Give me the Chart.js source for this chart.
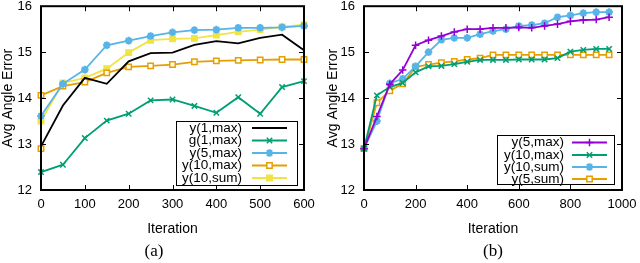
<!DOCTYPE html>
<html>
<head>
<meta charset="utf-8">
<script src="https://cdn.jsdelivr.net/npm/chart.js@4.4.0/dist/chart.umd.min.js"></script>
<style>
  body { margin: 0; background: #fff; }
  #wrap { position: relative; width: 640px; height: 263px; overflow: hidden; }
  canvas { position: absolute; top: 0; }
  .cap { position: absolute; font: 17px "Liberation Serif", serif; transform: translate(-50%, -50%); color: #000; }
</style>
</head>
<body>
<div id="wrap">
  <canvas id="chartA" width="320" height="263" style="left:0"></canvas>
  <canvas id="chartB" width="320" height="263" style="left:320px"></canvas>
  <div class="cap" style="left:154px;top:251px">(a)</div>
  <div class="cap" style="left:493px;top:251px">(b)</div>
</div>
<script>
// ---- data, panel (a) ----
const iterA = [0, 50, 100, 150, 200, 250, 300, 350, 400, 450, 500, 550, 600];
const iterA10max = [0, 0, 50, 100, 150, 200, 250, 300, 350, 400, 450, 500, 550, 600];
const a_y1max = [12.95, 13.84, 14.44, 14.31, 14.8, 14.98, 14.99, 15.16, 15.24, 15.19, 15.31, 15.38, 15.04];
const a_g1max = [12.39, 12.55, 13.13, 13.51, 13.66, 13.95, 13.97, 13.83, 13.68, 14.02, 13.66, 14.24, 14.37];
const a_y5max = [13.61, 14.31, 14.62, 15.15, 15.25, 15.35, 15.43, 15.48, 15.49, 15.53, 15.53, 15.54, 15.57];
const a_y10max = [12.9, 14.06, 14.26, 14.35, 14.55, 14.68, 14.7, 14.73, 14.79, 14.81, 14.82, 14.83, 14.84, 14.84];
const a_y10sum = [13.5, 14.33, 14.44, 14.64, 14.99, 15.26, 15.29, 15.3, 15.37, 15.44, 15.49, 15.55, 15.6];

// ---- data, panel (b) ----
const iterB = [0, 50, 100, 150, 200, 250, 300, 350, 400, 450, 500, 550, 600, 650, 700, 750, 800, 850, 900, 950];
const b_y5max = [12.9, 13.6, 14.3, 14.61, 15.15, 15.26, 15.35, 15.44, 15.5, 15.5, 15.53, 15.53, 15.54, 15.53, 15.57, 15.61, 15.67, 15.7, 15.71, 15.76];
const b_y10max = [12.9, 14.06, 14.24, 14.33, 14.56, 14.69, 14.7, 14.74, 14.79, 14.83, 14.83, 14.83, 14.84, 14.84, 14.84, 14.87, 15.01, 15.05, 15.07, 15.07];
const b_y10sum = [12.9, 13.5, 14.32, 14.42, 14.69, 15.0, 15.27, 15.31, 15.31, 15.39, 15.46, 15.5, 15.57, 15.59, 15.63, 15.76, 15.8, 15.85, 15.87, 15.87];
const b_y5sum = [12.9, 13.9, 14.16, 14.31, 14.68, 14.73, 14.77, 14.8, 14.84, 14.87, 14.94, 14.94, 14.94, 14.94, 14.94, 14.94, 14.94, 14.94, 14.94, 14.94];

const yTicks = [12, 13, 14, 15, 16];

const FONT = "'Liberation Sans', Arial, sans-serif";
const BLACK = "#000000", GREEN = "#009e73", BLUE = "#56b4e9",
      ORANGE = "#e69f00", YELLOW = "#f0e442", PURPLE = "#9400d3";

function pts(xs, ys) {
  return xs.map((x, i) => ({ x: x, y: ys[i] }));
}

function series(label, xs, ys, color, style) {
  let open = style === "rectOpen";
  let sq = style === "rect" || open;
  return {
    label: label,
    data: pts(xs, ys),
    borderColor: color,
    backgroundColor: open ? "#ffffff" : color,
    borderWidth: 1.8,
    pointStyle: style ? (open ? "rect" : style) : false,
    pointRadius: style ? (sq ? 3.8 : 3.8) : 0,
    pointBorderWidth: style === "star" ? 2.2 : 1.5,
    pointBorderColor: color,
    pointBackgroundColor: open ? "#ffffff" : color,
    tension: 0,
    clip: false,
  };
}

// frame with inward ticks on all four sides
const framePlugin = {
  id: "frame",
  afterDatasetsDraw(chart) {
    const { ctx, chartArea: a, scales } = chart;
    ctx.save();
    ctx.strokeStyle = "#000";
    ctx.lineWidth = 1;
    ctx.beginPath();
    scales.x.ticks.forEach((t) => {
      const px = Math.round(scales.x.getPixelForValue(t.value)) + 0.5;
      ctx.moveTo(px, a.bottom); ctx.lineTo(px, a.bottom - 5);
      ctx.moveTo(px, a.top); ctx.lineTo(px, a.top + 5);
    });
    scales.y.ticks.forEach((t) => {
      const py = Math.round(scales.y.getPixelForValue(t.value)) + 0.5;
      ctx.moveTo(a.left, py); ctx.lineTo(a.left + 5, py);
      ctx.moveTo(a.right, py); ctx.lineTo(a.right - 5, py);
    });
    ctx.stroke();
    ctx.lineWidth = 2;
    ctx.strokeRect(a.left, a.top, a.right - a.left, a.bottom - a.top);
    ctx.restore();
  },
};

// gnuplot-like key: text right-aligned, then line sample with marker
const keyPlugin = {
  id: "gkey",
  afterDraw(chart, args, opts) {
    const { ctx } = chart;
    const [l, t, r, b] = opts.box;
    ctx.save();
    ctx.fillStyle = "#fff";
    ctx.fillRect(l, t, r - l, b - t);
    ctx.strokeStyle = "#000";
    ctx.lineWidth = 1;
    ctx.strokeRect(l + 0.5, t + 0.5, r - l, b - t);
    ctx.font = opts.fontSize + "px " + FONT;
    ctx.textAlign = "right";
    ctx.textBaseline = "middle";
    chart.data.datasets.forEach((ds, i) => {
      const y = opts.rows[i];
      ctx.fillStyle = "#000";
      ctx.fillText(ds.label, opts.textRight, y);
      ctx.strokeStyle = ds.borderColor;
      ctx.lineWidth = ds.borderWidth;
      ctx.beginPath();
      ctx.moveTo(opts.x1, y);
      ctx.lineTo(opts.x2, y);
      ctx.stroke();
      if (ds.pointStyle) {
        ctx.fillStyle = ds.pointBackgroundColor;
        ctx.strokeStyle = ds.pointBorderColor;
        ctx.lineWidth = ds.pointBorderWidth;
        Chart.helpers.drawPoint(ctx, {
          pointStyle: ds.pointStyle, radius: ds.pointRadius,
          borderWidth: ds.pointBorderWidth, rotation: 0,
        }, (opts.x1 + opts.x2) / 2, y);
      }
    });
    ctx.restore();
  },
};

function makeOptions(xMax, xStep, yWidth, yTitlePad, padRight, key) {
  return {
    responsive: false,
    animation: false,
    layout: { padding: { top: 5, right: padRight, left: 0, bottom: 0 } },
    plugins: { legend: { display: false }, tooltip: { enabled: false }, gkey: key },
    scales: {
      x: {
        type: "linear",
        min: 0,
        max: xMax,
        grid: { display: false, drawTicks: false },
        border: { display: false },
        ticks: {
          stepSize: xStep, padding: 7, color: "#000",
          font: { family: FONT, size: 13 },
          callback: (v) => String(v),
        },
        title: {
          display: true, text: "Iteration", color: "#000",
          font: { family: FONT, size: 14, lineHeight: 1 },
          padding: { top: 0, bottom: 27 },
        },
        afterFit(s) { s.height = 73; s.paddingLeft = 0; s.paddingRight = 0; },
      },
      y: {
        min: 12,
        max: 16,
        grid: { display: false, drawTicks: false },
        border: { display: false },
        afterBuildTicks(s) { s.ticks = yTicks.map((v) => ({ value: v })); },
        ticks: { padding: 9, color: "#000", font: { family: FONT, size: 13 } },
        title: {
          display: true, text: "Avg Angle Error", color: "#000",
          font: { family: FONT, size: 14, lineHeight: 1 },
          padding: { top: yTitlePad, bottom: 0 },
        },
        afterFit(s) { s.width = yWidth; s.paddingTop = 0; s.paddingBottom = 0; },
      },
    },
  };
}

new Chart(document.getElementById("chartA"), {
  type: "line",
  data: {
    datasets: [
      series("y(1,max)", iterA, a_y1max, BLACK, null),
      series("g(1,max)", iterA, a_g1max, GREEN, "crossRot"),
      series("y(5,max)", iterA, a_y5max, BLUE, "star"),
      series("y(10,max)", iterA10max, a_y10max, ORANGE, "rectOpen"),
      series("y(10,sum)", iterA, a_y10sum, YELLOW, "rect"),
    ],
  },
  options: makeOptions(600, 100, 41, 1, 16, {
    box: [176, 121, 297, 185],
    rows: [128, 140.5, 153, 165.5, 178],
    textRight: 242, x1: 252, x2: 287, fontSize: 13.5,
  }),
  plugins: [framePlugin, keyPlugin],
});

new Chart(document.getElementById("chartB"), {
  type: "line",
  data: {
    datasets: [
      series("y(5,max)", iterB, b_y5max, PURPLE, "cross"),
      series("y(10,max)", iterB, b_y10max, GREEN, "crossRot"),
      series("y(10,sum)", iterB, b_y10sum, BLUE, "star"),
      series("y(5,sum)", iterB, b_y5sum, ORANGE, "rectOpen"),
    ],
  },
  options: makeOptions(1000, 200, 44, 6, 18, {
    box: [177, 135, 294, 184],
    rows: [142.5, 155, 167, 179],
    textRight: 244, x1: 252, x2: 287, fontSize: 13.5,
  }),
  plugins: [framePlugin, keyPlugin],
});
</script>
</body>
</html>
